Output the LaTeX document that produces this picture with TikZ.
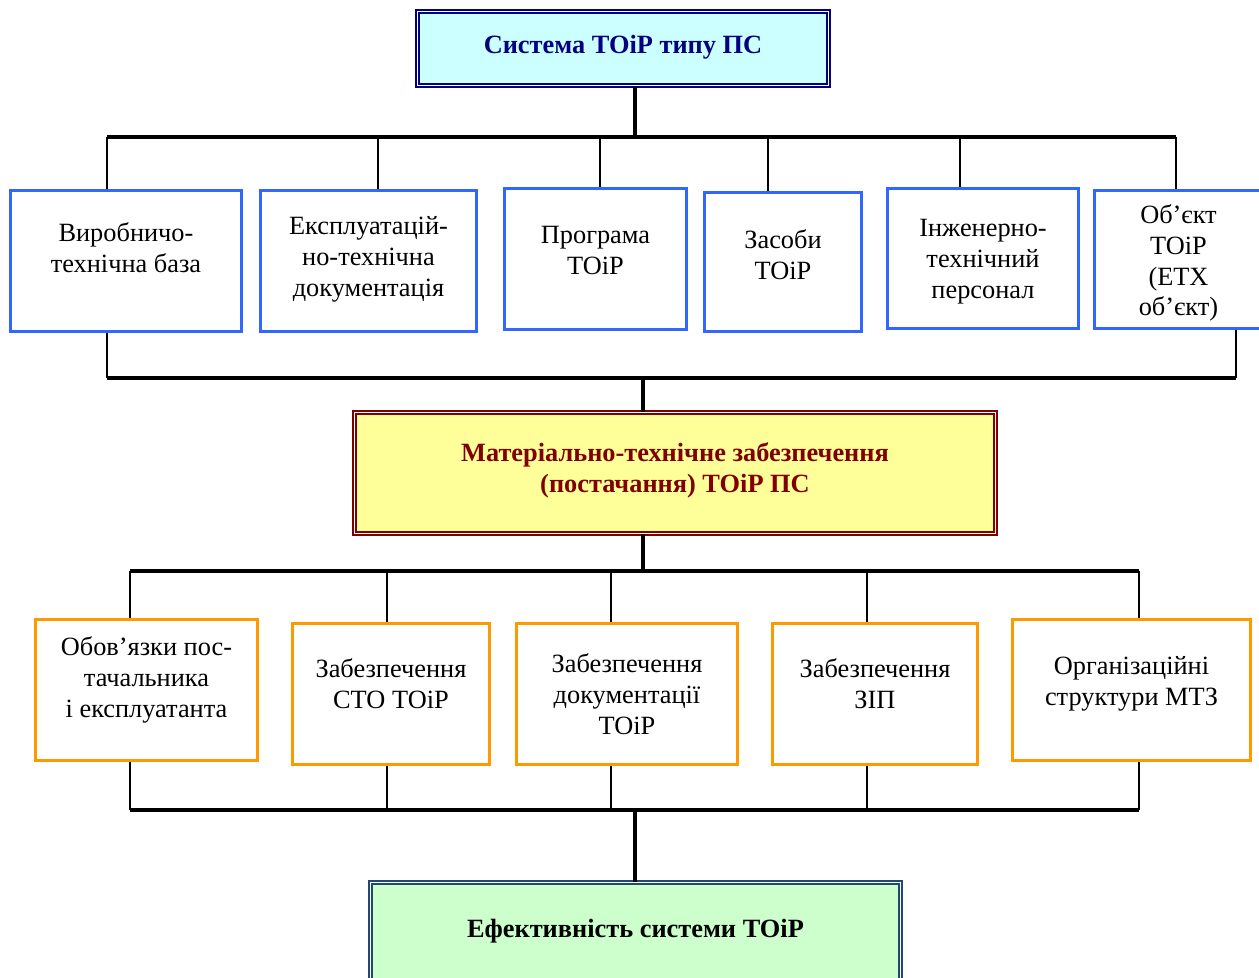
\documentclass[tikz,border=0pt]{standalone}
\usepackage{fontspec}
\setmainfont{Liberation Serif}
\usepackage{xcolor}
\usepackage{tikz}
\definecolor{navyhead}{RGB}{0,0,128}
\definecolor{headfill}{RGB}{204,255,255}
\definecolor{redhead}{RGB}{128,0,0}
\definecolor{midfill}{RGB}{255,255,153}
\definecolor{effborder}{RGB}{31,73,125}
\definecolor{efffill}{RGB}{204,255,204}
\definecolor{resblue}{RGB}{51,102,255}
\definecolor{supporange}{RGB}{255,153,0}
\newcommand{\boxtext}[2]{\raisebox{#1}[\height][\depth]{\begin{tabular}{@{}c@{}}#2\end{tabular}}}

\begin{document}
\begin{tikzpicture}[x=0.02cm, y=-0.02cm,
  head/.style={double=white, double distance=0.9pt, line width=0.9pt, inner sep=0pt,
               font=\fontsize{15}{17.6}\selectfont\bfseries},
  resbox/.style={draw=resblue, line width=1.7pt, fill=white, inner sep=0pt, font=\fontsize{15}{17.6}\selectfont},
  supbox/.style={draw=supporange, line width=1.7pt, fill=white, inner sep=0pt, font=\fontsize{15}{17.6}\selectfont},
  bus/.style={line width=1.9pt},
  drop/.style={line width=0.8pt}]
  \useasboundingbox (0,0) rectangle (1259,978);
  % system
  \node[head, draw=navyhead, fill=headfill, text=navyhead, minimum width=8.22cm, minimum height=1.48cm]
    (sys) at (623,48.5) {\boxtext{0.8pt}{Система ТОіР типу ПС}};
  % resources
  \node[resbox, minimum width=4.62cm, minimum height=2.82cm] (b1) at (126,261)   {\boxtext{5.7pt}{Виробничо-\\технічна база}};
  \node[resbox, minimum width=4.32cm, minimum height=2.82cm] (b2) at (368.5,261) {\boxtext{1.1pt}{Експлуатацій-\\но-технічна\\документація}};
  \node[resbox, minimum width=3.64cm, minimum height=2.82cm] (b3) at (595.5,259) {\boxtext{3.7pt}{Програма\\ТОіР}};
  \node[resbox, minimum width=3.14cm, minimum height=2.78cm] (b4) at (783,262)   {\boxtext{2.3pt}{Засоби\\ТОіР}};
  \node[resbox, minimum width=3.82cm, minimum height=2.80cm] (b5) at (983,258.5) {\boxtext{-1.7pt}{Інженерно-\\технічний\\персонал}};
  \node[resbox, minimum width=3.36cm, minimum height=2.76cm] (b6) at (1178.5,259.5) {\boxtext{-2.2pt}{Об’єкт\\ТОіР\\(ЕТХ\\об’єкт)}};
  % supply
  \node[head, draw=redhead, fill=midfill, text=redhead, minimum width=12.82cm, minimum height=2.42cm]
    (mtz) at (675,473) {\boxtext{1.1pt}{Матеріально-технічне забезпечення\\(постачання) ТОіР ПС}};
  % supply parts
  \node[supbox, minimum width=4.44cm, minimum height=2.82cm] (o1) at (146.5,690) {\boxtext{5.3pt}{Обов’язки пос-\\тачальника\\і експлуатанта}};
  \node[supbox, minimum width=3.94cm, minimum height=2.82cm] (o2) at (391,694)   {\boxtext{4.3pt}{Забезпечення\\СТО ТОіР}};
  \node[supbox, minimum width=4.42cm, minimum height=2.82cm] (o3) at (627,694)   {\boxtext{-1.7pt}{Забезпечення\\документації\\ТОіР}};
  \node[supbox, minimum width=4.10cm, minimum height=2.82cm] (o4) at (875,694)   {\boxtext{4.3pt}{Забезпечення\\ЗІП}};
  \node[supbox, minimum width=4.76cm, minimum height=2.82cm] (o5) at (1131.5,690) {\boxtext{3.7pt}{Організаційні\\структури МТЗ}};
  % result
  \node[head, draw=effborder, fill=efffill, text=black, minimum width=10.6cm, minimum height=2.0cm]
    (eff) at (635.5,932.5) {\boxtext{0.9pt}{Ефективність системи ТОіР}};
  % bus points
  \coordinate (tc) at (635,137);
  \foreach \i/\x in {1/107, 2/378, 3/600, 4/768, 5/960, 6/1176}
    \coordinate (t\i) at (\x,137);
  \coordinate (u1) at (107,378);
  \coordinate (u6) at (1236,378);
  \coordinate (uc) at (643,378);
  \coordinate (vc) at (643,571);
  \coordinate (wc) at (635,810);
  \foreach \i/\x in {1/130, 2/387, 3/611, 4/867, 5/1139} {
    \coordinate (v\i) at (\x,571);
    \coordinate (w\i) at (\x,810);
  }
  % system to resources
  \draw[bus] (sys.south -| tc) -- (tc);
  \draw[bus] (t1) -- (t6);
  \foreach \i in {1,...,6}
    \draw[drop] (t\i) -- (t\i |- b\i.north);
  % resources to supply
  \draw[drop] (b1.south -| u1) -- (u1);
  \draw[drop] (b6.south -| u6) -- (u6);
  \draw[bus] (u1) -- (u6);
  \draw[bus] (uc) -- (uc |- mtz.north);
  % supply to parts
  \draw[bus] (mtz.south -| vc) -- (vc);
  \draw[bus] (v1) -- (v5);
  \foreach \i in {1,...,5} {
    \draw[drop] (v\i) -- (v\i |- o\i.north);
    \draw[drop] (o\i.south -| w\i) -- (w\i);
  }
  % parts to result
  \draw[bus] (w1) -- (w5);
  \draw[bus] (wc) -- (wc |- eff.north);
\end{tikzpicture}
\end{document}
